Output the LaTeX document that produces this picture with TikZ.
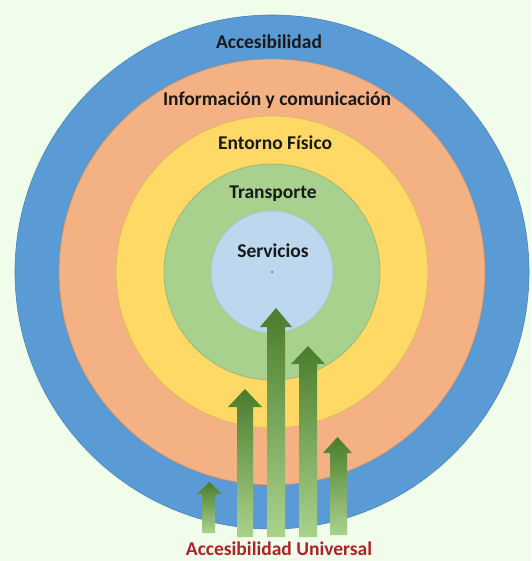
\documentclass[tikz,border=0pt]{standalone}
\usepackage{fontspec}
\setmainfont{Carlito}
\definecolor{bgc}{HTML}{F0FDEA}
\definecolor{ringA}{HTML}{5B9BD5}
\definecolor{ringB}{HTML}{F4B183}
\definecolor{ringC}{HTML}{FFD966}
\definecolor{ringD}{HTML}{A9D18E}
\definecolor{ringE}{HTML}{BDD7EE}
\definecolor{arrdark}{HTML}{4A7C2C}
\definecolor{arrlight}{HTML}{A9D38C}
\definecolor{titlered}{HTML}{B0202A}
\newcommand\uparr[8]{%
  \shade[arrshade] (#1,#7) -- (#1,#6) -- (#3,#6) -- ({(#3+#4)/2},#5) -- (#4,#6) -- (#2,#6) -- (#2,#7) -- cycle;
  \coordinate (#8) at ({(#3+#4)/2},#5);}
\begin{document}
\begin{tikzpicture}[x=1pt,y=-1pt,
  lbl/.style={font=\fontsize{19.5}{22}\selectfont\bfseries, text=black!90, anchor=base, inner sep=0pt},
  ringline/.style={line width=0.6pt},
  arrshade/.style={top color=arrdark, bottom color=arrlight}]
\useasboundingbox (0,0) rectangle (531,561);
\fill[bgc] (0,0) rectangle (531,561);
\coordinate (c) at (272,272);
\filldraw[fill=ringA, draw=ringA!85!black, ringline] (c) circle (257pt);
\filldraw[fill=ringB, draw=ringB!80!black, ringline] (c) circle (213pt);
\filldraw[fill=ringC, draw=ringC!85!black, ringline] (c) circle (156pt);
\filldraw[fill=ringD, draw=ringD!85!black, ringline] (c) circle (108pt);
\filldraw[fill=ringE, draw=ringE!90!black, ringline] (c) circle (61pt);
\fill[ringA] (c) circle (1.5pt);
\node[lbl] (acc) at (269,49) {Accesibilidad};
\node[lbl] (inf) at (277,106) {Información y comunicación};
\node[lbl] (ent) at (275,150) {Entorno Físico};
\node[lbl] (tra) at (273,198) {Transporte};
\node[lbl] (ser) at (273,257) {Servicios};
\uparr{202}{215}{197}{222}{482}{494}{533}{a1}
\uparr{237}{253}{228}{262}{389}{407}{537}{a2}
\uparr{267}{285}{260}{292}{308}{327}{537}{a3}
\uparr{299}{317}{291}{325}{346}{364}{537}{a4}
\uparr{330}{347}{323}{352}{437}{453}{535}{a5}
\node[lbl, text=titlered] (uni) at (279,555.5) {Accesibilidad Universal};
\end{tikzpicture}
\end{document}
